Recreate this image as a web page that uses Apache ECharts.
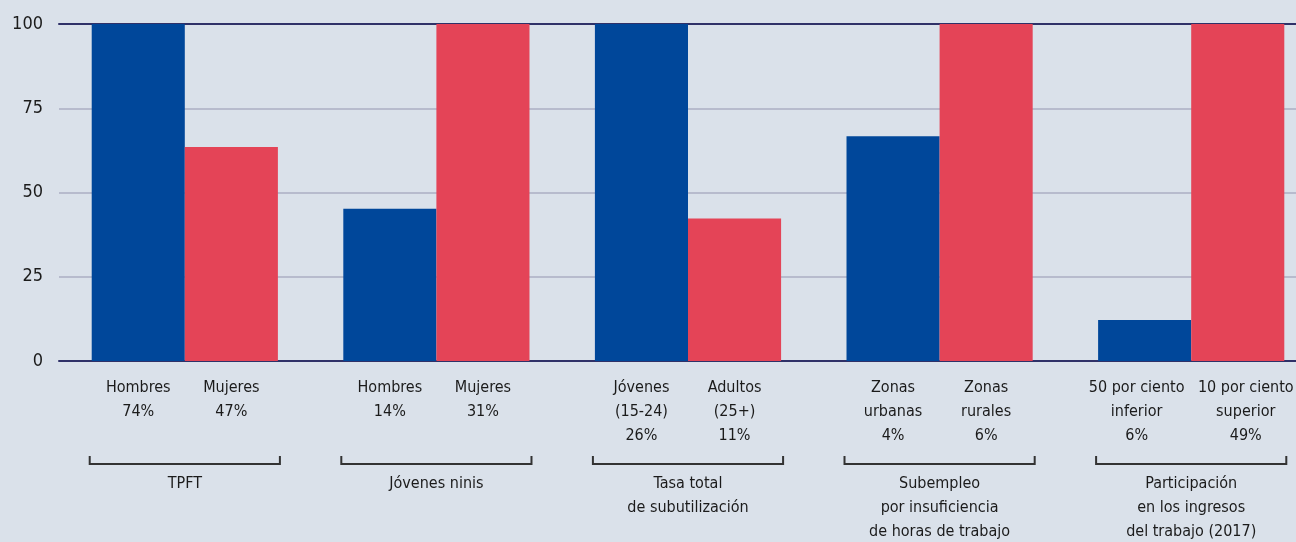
<!DOCTYPE html>
<html>
<head>
<meta charset="utf-8">
<script src="https://cdn.jsdelivr.net/npm/echarts@6/dist/echarts.min.js"></script>
<style>
  html, body { margin: 0; padding: 0; background: #dae1ea; }
  #chart { width: 1296px; height: 542px; }
</style>
</head>
<body>
<div id="chart"></div>
<script>
// Indicator groups shown along the x axis
const groups = [
  'TPFT',
  'Jóvenes ninis',
  'Tasa total\nde subutilización',
  'Subempleo\npor insuficiencia\nde horas de trabajo',
  'Participación\nen los ingresos\ndel trabajo (2017)'
];

// Bar heights (index, larger value of each pair = 100)
const firstValues = [100, 45.2, 100, 66.7, 12.2];
const secondValues = [63.5, 100, 42.3, 100, 100];

// Text printed under each bar
const firstLabels = [
  'Hombres\n74%',
  'Hombres\n14%',
  'Jóvenes\n(15-24)\n26%',
  'Zonas\nurbanas\n4%',
  '50 por ciento\ninferior\n6%'
];
const secondLabels = [
  'Mujeres\n47%',
  'Mujeres\n31%',
  'Adultos\n(25+)\n11%',
  'Zonas\nrurales\n6%',
  '10 por ciento\nsuperior\n49%'
];

// Y axis ticks
const yMin = 0;
const yMax = 100;
const yStep = 25;

const FONT = '"DejaVu Sans Condensed", "DejaVu Sans", sans-serif';
const TEXT = '#1b1b1b';
const BLUE = '#00479a';
const RED = '#e44457';

const chart = echarts.init(document.getElementById('chart'), null, { renderer: 'canvas' });

const barLabel = {
  show: true,
  position: 'bottom',
  distance: 15,
  color: TEXT,
  fontFamily: FONT,
  fontSize: 16,
  lineHeight: 24,
  align: 'center'
};

// Bar data items; the long labels of the last pair are nudged apart
const toItems = (values, texts, nudge) => values.map((v, i) => ({
  value: v,
  label: {
    formatter: texts[i],
    offset: [texts[i].length > 20 ? nudge : 0, 0]
  }
}));

chart.setOption({
  animation: false,
  backgroundColor: '#dae1ea',
  grid: {
    left: 59, top: 24, right: -21, bottom: 181,
    containLabel: false,
    outerBoundsMode: 'none'
  },
  xAxis: [
    {
      type: 'category',
      data: groups,
      position: 'bottom',
      axisLine: { show: true, lineStyle: { color: '#2f3168', width: 2 } },
      axisTick: { show: false },
      axisLabel: {
        margin: 111,
        color: TEXT,
        fontFamily: FONT,
        fontSize: 16,
        lineHeight: 24,
        interval: 0
      },
      splitLine: { show: false }
    },
    {
      // dark rule along the top of the plot
      type: 'category',
      data: groups,
      position: 'top',
      axisLine: { show: true, lineStyle: { color: '#2f3168', width: 2 } },
      axisTick: { show: false },
      axisLabel: { show: false },
      splitLine: { show: false }
    }
  ],
  yAxis: {
    type: 'value',
    min: yMin,
    max: yMax,
    interval: yStep,
    axisLine: { show: false },
    axisTick: { show: false },
    axisLabel: {
      margin: 16,
      color: TEXT,
      fontFamily: FONT,
      fontSize: 18,
      formatter: (v) => String(v)
    },
    splitLine: { show: true, lineStyle: { color: '#b7bbcd', width: 2 } }
  },
  series: [
    {
      type: 'bar',
      data: toItems(firstValues, firstLabels, -8),
      barGap: '0%',
      barCategoryGap: '26%',
      itemStyle: { color: BLUE },
      label: barLabel,
      z: 2
    },
    {
      type: 'bar',
      data: toItems(secondValues, secondLabels, 8),
      barGap: '0%',
      barCategoryGap: '26%',
      itemStyle: { color: RED },
      label: barLabel,
      z: 2
    },
    {
      // bracket under each pair of bars
      type: 'custom',
      clip: false,
      silent: true,
      data: groups.map((_, i) => [i, 0]),
      renderItem: (params, api) => {
        const pt = api.coord([api.value(0), 0]);
        const band = api.size([1, 0])[0];
        const half = band * 0.74 / 2 + 2;
        const yLine = pt[1] + 103;
        const yTop = pt[1] + 95;
        return {
          type: 'polyline',
          shape: {
            points: [
              [pt[0] - half, yTop],
              [pt[0] - half, yLine],
              [pt[0] + half, yLine],
              [pt[0] + half, yTop]
            ]
          },
          style: { stroke: '#333333', lineWidth: 2, fill: null }
        };
      },
      z: 3
    }
  ]
});
</script>
</body>
</html>
